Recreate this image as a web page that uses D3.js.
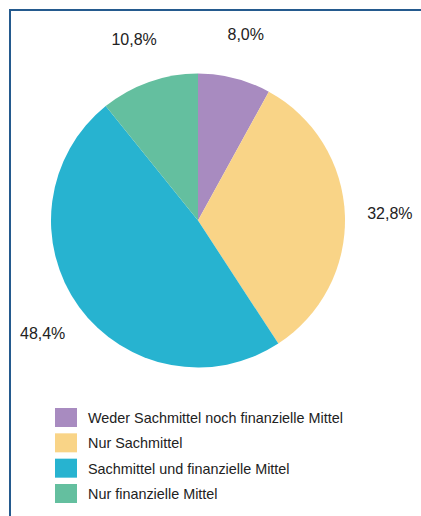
<!DOCTYPE html>
<html>
<head>
<meta charset="utf-8">
<script src="https://cdn.jsdelivr.net/npm/d3@7"></script>
<style>
  html, body { margin: 0; padding: 0; background: #fff; }
  svg { display: block; }
</style>
</head>
<body>
<svg id="chart" width="421" height="516"></svg>
<script>
const categories = ["Weder Sachmittel noch finanzielle Mittel", "Nur Sachmittel", "Sachmittel und finanzielle Mittel", "Nur finanzielle Mittel"];
const values = [8.0, 32.8, 48.4, 10.8];
const valueLabels = ["8,0%", "32,8%", "48,4%", "10,8%"];
const colors = ["#a88bc0", "#f9d487", "#27b3d0", "#64bf9f"];

const svg = d3.select("#chart");

// frame
svg.append("path")
  .attr("d", "M10,517 L10,10 L422,10")
  .attr("fill", "none")
  .attr("stroke", "#245a8e")
  .attr("stroke-width", 2);

const cx = 198, cy = 220.5, r = 147, labelR = 192;

const pie = d3.pie().sort(null).value(d => d)(values);
const arc = d3.arc().innerRadius(0).outerRadius(r);
const labelArc = d3.arc().innerRadius(labelR).outerRadius(labelR);

const g = svg.append("g").attr("transform", `translate(${cx},${cy})`);
g.selectAll("path.slice")
  .data(pie)
  .join("path")
  .attr("class", "slice")
  .attr("d", arc)
  .attr("fill", (d, i) => colors[i]);

g.selectAll("text.lbl")
  .data(pie)
  .join("text")
  .attr("class", "lbl")
  .attr("transform", d => `translate(${labelArc.centroid(d)})`)
  .attr("text-anchor", "middle")
  .attr("dominant-baseline", "central")
  .attr("font-family", "Liberation Sans, Arial, sans-serif")
  .attr("font-size", 16)
  .attr("fill", "#222")
  .text((d, i) => valueLabels[i]);

// legend
const legendY = d3.scaleBand().domain(categories).range([408, 503]).paddingInner(0.25).paddingOuter(0);
const lg = svg.append("g");
lg.selectAll("rect")
  .data(categories)
  .join("rect")
  .attr("x", 55)
  .attr("y", d => legendY(d))
  .attr("width", 22)
  .attr("height", legendY.bandwidth())
  .attr("fill", (d, i) => colors[i]);
lg.selectAll("text")
  .data(categories)
  .join("text")
  .attr("x", 88)
  .attr("y", d => legendY(d) + legendY.bandwidth() / 2 + 0.5)
  .attr("dominant-baseline", "central")
  .attr("font-family", "Liberation Sans, Arial, sans-serif")
  .attr("font-size", 14.4)
  .attr("fill", "#222")
  .text(d => d);
</script>
</body>
</html>
